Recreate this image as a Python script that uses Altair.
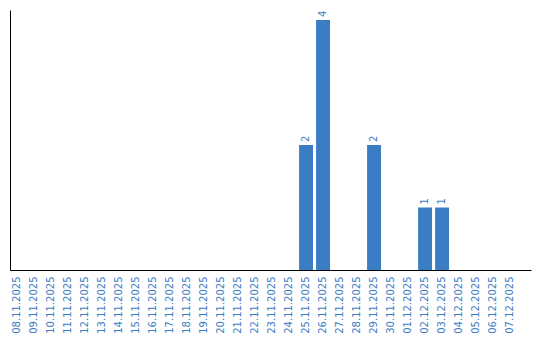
import altair as alt
import pandas as pd

dates = [
    "08.11.2025", "09.11.2025", "10.11.2025", "11.11.2025", "12.11.2025",
    "13.11.2025", "14.11.2025", "15.11.2025", "16.11.2025", "17.11.2025",
    "18.11.2025", "19.11.2025", "20.11.2025", "21.11.2025", "22.11.2025",
    "23.11.2025", "24.11.2025", "25.11.2025", "26.11.2025", "27.11.2025",
    "28.11.2025", "29.11.2025", "30.11.2025", "01.12.2025", "02.12.2025",
    "03.12.2025", "04.12.2025", "05.12.2025", "06.12.2025", "07.12.2025",
]
values = [0, 0, 0, 0, 0, 0, 0, 0, 0, 0,
          0, 0, 0, 0, 0, 0, 0, 2, 4, 0,
          0, 2, 0, 0, 1, 1, 0, 0, 0, 0]

df = pd.DataFrame({"date": dates, "value": values})

BLUE = "#3a7dc4"
FONT = "DejaVu Sans"

x = alt.X(
    "date:N",
    sort=None,
    title=None,
    scale=alt.Scale(paddingInner=0.18, paddingOuter=0.41, align=0),
    axis=alt.Axis(
        labelAngle=-90,
        ticks=False,
        labelPadding=6,
        labelColor=BLUE,
        labelFont=FONT,
        labelFontSize=10,
        domainColor="black",
        grid=False,
    ),
)
y = alt.Y(
    "value:Q",
    title=None,
    scale=alt.Scale(domain=[0, 4.16], nice=False),
    axis=alt.Axis(labels=False, ticks=False, grid=False, domainColor="black"),
)

bars = alt.Chart(df).mark_bar(color=BLUE).encode(x=x, y=y)

labels = (
    alt.Chart(df)
    .transform_filter("datum.value > 0")
    .mark_text(angle=270, align="left", baseline="middle", dx=3,
               color=BLUE, font=FONT, fontSize=10)
    .encode(x=x, y=y, text="value:Q")
)

chart = (
    alt.layer(bars, labels)
    .properties(width=521, height=260,
                padding={"left": 10, "top": 10, "right": 9, "bottom": 0})
    .configure_view(stroke=None)
)

chart.save("out.html", embed_options={"renderer": "svg", "actions": False})
